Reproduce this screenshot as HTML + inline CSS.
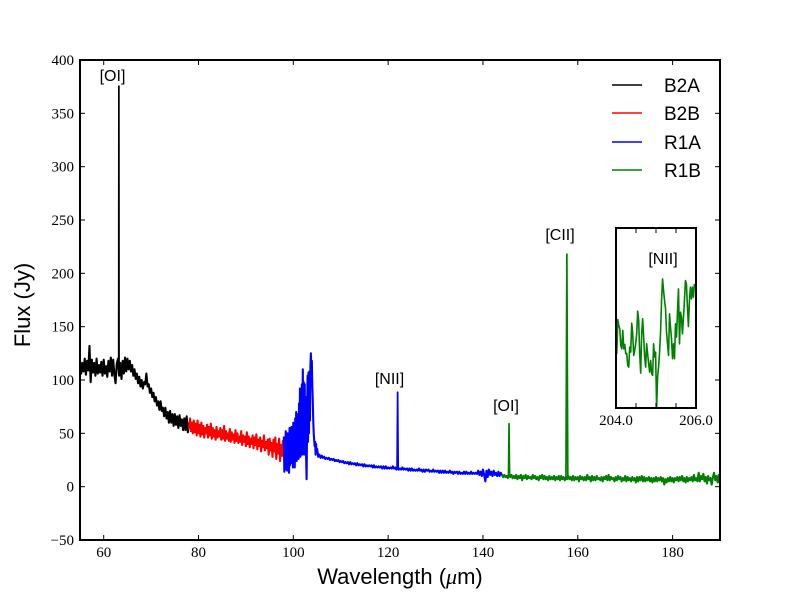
<!DOCTYPE html>
<html>
<head>
<meta charset="utf-8">
<title>Flux vs Wavelength</title>
<style>
html,body{margin:0;padding:0;background:#fff;}
svg{display:block;}
text{fill:#000;}
.sans{font-family:"Liberation Sans",sans-serif;}
.serif{font-family:"Liberation Serif",serif;}
</style>
</head>
<body>
<svg id="chart" width="800" height="600" viewBox="0 0 800 600" xmlns="http://www.w3.org/2000/svg">
  <rect x="0" y="0" width="800" height="600" fill="#fff"/>
  <defs>
    <clipPath id="mainClip"><rect x="80" y="60" width="640" height="480"/></clipPath>
    <clipPath id="insetClip"><rect x="616" y="228" width="80" height="180"/></clipPath>
  </defs>
  <g id="mainMarks" clip-path="url(#mainClip)"></g>
  <g id="mainTicks"></g>
  <rect x="80" y="60" width="640" height="480" fill="none" stroke="#000" stroke-width="2"/>

  <text class="sans" x="400" y="584" font-size="22" text-anchor="middle">Wavelength (<tspan class="serif" font-style="italic">μ</tspan>m)</text>
  <text class="sans" x="0" y="0" font-size="22" text-anchor="middle" transform="translate(30 305) rotate(-90)">Flux (Jy)</text>

  <text class="sans" x="112.5" y="81" font-size="16" text-anchor="middle">[OI]</text>
  <text class="sans" x="389.5" y="384" font-size="16" text-anchor="middle">[NII]</text>
  <text class="sans" x="506" y="411" font-size="16" text-anchor="middle">[OI]</text>
  <text class="sans" x="560" y="240" font-size="16" text-anchor="middle">[CII]</text>

  <g id="legend">
    <line x1="612" x2="642" y1="85" y2="85" stroke="#000" stroke-width="1.5"/>
    <text class="sans" x="664" y="92" font-size="19">B2A</text>
    <line x1="612" x2="642" y1="113" y2="113" stroke="#f00" stroke-width="1.5"/>
    <text class="sans" x="664" y="120" font-size="19">B2B</text>
    <line x1="612" x2="642" y1="142" y2="142" stroke="#00f" stroke-width="1.5"/>
    <text class="sans" x="664" y="149" font-size="19">R1A</text>
    <line x1="612" x2="642" y1="170" y2="170" stroke="#008000" stroke-width="1.5"/>
    <text class="sans" x="664" y="177" font-size="19">R1B</text>
  </g>

  <g id="inset">
    <rect x="616" y="228" width="80" height="180" fill="#fff"/>
    <g id="insetMarks" clip-path="url(#insetClip)"></g>
    <g id="insetTicks"></g>
    <rect x="616" y="228" width="80" height="180" fill="none" stroke="#000" stroke-width="2"/>
    <text class="sans" x="663" y="264" font-size="16" text-anchor="middle">[NII]</text>
  </g>
</svg>

<script>
// ---- axis tick labels ----
const xTicks = [60, 80, 100, 120, 140, 160, 180];
const yTicks = [-50, 0, 50, 100, 150, 200, 250, 300, 350, 400];
const insetTicks = [204.5, 205, 205.5];
const insetTickLabels = [204, 206];

// ---- emission lines ----
const lineWave = [63.2, 122, 145.5, 157.7];
const linePeak = [375.5, 88.5, 59, 218];
const lineBase = [112, 17, 10, 8];
const lineHalfWidth = [0.04, 0.12, 0.12, 0.2];
const lineSeries = ['b2a', 'r1a', 'r1b', 'r1b'];

// ---- B2A: 55 to 78 um ----
const b2aRange = [55, 78];
const b2aFlux = [118,106,116,108,120,105,118,109,132,98,119,107,116,104,120,106,114,107,117,104,119,106,113,103,118,108,121,104,119,105,97,115,120,104,116,101,118,106,121,108,120,110,118,108,114,104,110,101,106,97,103,94,100,92,98,96,106,94,96,88,92,84,88,80,84,76,80,72,80,71,74,66,74,64,70,60,71,60,68,57,68,58,66,55,67,57,63,53,64,53,66,51,60];

// ---- B2B: 78 to 98 um ----
const b2bRange = [78, 98];
const b2bFlux = [54,64,52,60,50,62,51,59,48,62,50,58,47,60,49,57,46,55,50,58,46,56,48,59,45,55,47,53,44,56,46,52,47,55,44,53,45,57,43,52,45,50,43,54,42,51,44,49,41,53,43,50,41,47,42,52,39,48,42,47,38,51,40,47,37,45,40,48,36,46,39,49,35,44,38,46,33,43,37,48,34,42,36,44,30,45,34,41,28,44,33,46,26,40,31,45,24,39,29,43,27];

// ---- R1A: 98 to 104.9 um, the noisy feature ----
const r1aBumpRange = [98, 104.9];
const r1aBumpFlux = [47,14,44,22,52,16,38,15,50,24,42,13,55,20,48,28,56,22,50,18,60,22,52,18,64,26,70,24,68,30,60,26,78,30,92,28,86,34,96,30,110,34,98,30,96,38,84,28,7,60,104,42,107,50,108,62,112,125,100,118,95,80,62,50,44,38,42,30,40,32];

// ---- R1A: 105 to 144 um, the smooth tail ----
const r1aTailRange = [105, 144];
const r1aTailFlux = [36,28,30,27,29,27,28,26,27,26,27,25,26,25,26,24,25,24,25,23,24,23,24,22,23,22,23,21,23,21,22,21,22,20,22,20,21,20,21,19,21,19,20,19,20,19,20,18,20,18,19,18,19,18,19,17,19,17,19,17,18,17,18,17,19,17,18,16,18,16,17,16,18,16,17,16,17,15,17,15,17,15,16,15,16,15,17,15,16,14,16,14,16,15,16,14,15,14,16,14,15,14,15,13,15,13,15,13,15,13,14,13,15,13,14,12,14,13,14,12,14,12,13,12,14,12,14,12,13,12,14,12,13,12,13,12,15,11,14,10,16,11,5,15,9,16,11,14,10,15,11,13,10,14,10,13,11];

// ---- R1B: 144 to 190 um ----
const r1bRange = [144, 190];
const r1bFlux = [11,9,11,9,10,8,12,9,11,8,10,8,11,7,10,8,11,6,10,8,11,7,10,8,9,7,11,8,10,7,9,6,10,8,11,7,10,7,9,6,10,7,9,7,10,6,9,7,10,6,10,7,9,6,9,7,10,7,9,6,10,6,9,7,9,5,10,7,9,6,9,6,11,7,9,5,10,6,9,6,10,7,8,6,9,5,9,7,10,6,11,6,9,7,8,5,9,6,10,7,9,5,8,6,10,5,9,6,8,5,9,6,8,4,9,5,9,6,10,5,9,5,8,6,9,5,8,4,8,5,9,5,8,6,9,5,8,2,7,4,8,5,9,5,8,4,8,6,9,5,9,6,10,5,8,4,9,5,8,6,9,5,11,6,8,5,13,5,10,7,12,5,9,3,10,6,8,2,9,13,6,10,4,11,3];

// ---- inset: [NII] 205 um close-up (relative flux, no y labels) ----
const insetRange = [204.02, 205.96];
const insetFlux = [163,266,248,238,188,178,233,178,191,163,163,128,123,183,168,255,223,158,173,193,223,291,263,163,105,223,268,213,153,123,193,163,133,108,143,103,98,193,153,168,0,93,123,168,228,323,388,353,323,298,228,193,158,283,243,208,148,193,148,253,213,288,358,193,288,273,223,273,323,383,373,303,245,323,363,328,363,333,373];

// ---- scales ----
const xDomain = [55, 190], xPixels = [80, 720];
const yDomain = [-50, 400], yPixels = [540, 60];
const inXDomain = [204, 206], inXPixels = [616, 696];
const inYDomain = [0, 180], inYPixels = [408, 228];
const scale = (d, p) => v => p[0] + (v - d[0]) / (d[1] - d[0]) * (p[1] - p[0]);
const sx = scale(xDomain, xPixels), sy = scale(yDomain, yPixels);
const ix = scale(inXDomain, inXPixels), iy = scale(inYDomain, inYPixels);
const colors = {b2a: '#000', b2b: '#f00', r1a: '#00f', r1b: '#008000'};
const NS = 'http://www.w3.org/2000/svg';
const STROKE = 2.1;

function poly(parent, pts, color, width) {
  const el = document.createElementNS(NS, 'polyline');
  el.setAttribute('points', pts.map(p => p[0].toFixed(2) + ',' + p[1].toFixed(2)).join(' '));
  el.setAttribute('fill', 'none');
  el.setAttribute('stroke', color);
  el.setAttribute('stroke-width', width);
  el.setAttribute('stroke-linejoin', 'round');
  parent.appendChild(el);
  return el;
}
function gridPts(range, flux, fx, fy) {
  return flux.map((v, i) => [fx(range[0] + (range[1] - range[0]) * i / (flux.length - 1)), fy(v)]);
}
function tick(parent, x1, y1, x2, y2) {
  const el = document.createElementNS(NS, 'line');
  el.setAttribute('x1', x1);
  el.setAttribute('y1', y1);
  el.setAttribute('x2', x2);
  el.setAttribute('y2', y2);
  el.setAttribute('stroke', '#000');
  el.setAttribute('stroke-width', '1');
  parent.appendChild(el);
  return el;
}
function label(parent, x, y, str, anchor) {
  const el = document.createElementNS(NS, 'text');
  el.setAttribute('x', x);
  el.setAttribute('y', y);
  el.setAttribute('text-anchor', anchor);
  el.setAttribute('font-size', '15');
  el.setAttribute('class', 'serif');
  el.textContent = str;
  parent.appendChild(el);
  return el;
}

const marks = document.getElementById('mainMarks');
const ticks = document.getElementById('mainTicks');

const s1 = poly(marks, gridPts(b2aRange, b2aFlux, sx, sy), colors.b2a, STROKE);


const s2 = poly(marks, gridPts(b2bRange, b2bFlux, sx, sy), colors.b2b, STROKE);


const s3 = poly(marks, gridPts(r1aBumpRange, r1aBumpFlux, sx, sy), colors.r1a, STROKE);


const s4 = poly(marks, gridPts(r1aTailRange, r1aTailFlux, sx, sy), colors.r1a, STROKE);


const s5 = poly(marks, gridPts(r1bRange, r1bFlux, sx, sy), colors.r1b, STROKE);



lineWave.forEach((w, i) => {
  const hw = lineHalfWidth[i];
  const el = poly(marks, [[sx(w - hw), sy(lineBase[i])], [sx(w), sy(linePeak[i])], [sx(w + hw), sy(lineBase[i])]], colors[lineSeries[i]], 1.7);
  
  
});

xTicks.forEach(v => {
  const a = tick(ticks, sx(v), 540, sx(v), 535);
  
  
  const b = tick(ticks, sx(v), 60, sx(v), 65);
  
  
  const t = label(ticks, sx(v), 557, String(v), 'middle');
  
  
});
yTicks.forEach(v => {
  const a = tick(ticks, 80, sy(v), 85, sy(v));
  
  
  const b = tick(ticks, 720, sy(v), 715, sy(v));
  
  
  const t = label(ticks, 74, sy(v) + 5, (v < 0 ? '\u2212' + (-v) : String(v)), 'end');
  
  
});

const insetMarks = document.getElementById('insetMarks');
const insetTickGroup = document.getElementById('insetTicks');
const insetFluxScaled = insetFlux.map(v => v * 180 / 541);
const s6 = poly(insetMarks, gridPts(insetRange, insetFluxScaled, ix, iy), colors.r1b, 1.6);


insetTicks.forEach(v => {
  const a = tick(insetTickGroup, ix(v), 408, ix(v), 403);
  
  
  const b = tick(insetTickGroup, ix(v), 228, ix(v), 233);
  
  
});
insetTickLabels.forEach(v => {
  const t = label(insetTickGroup, ix(v), 425, v.toFixed(1), 'middle');
  
  
});
</script>
</body>
</html>
